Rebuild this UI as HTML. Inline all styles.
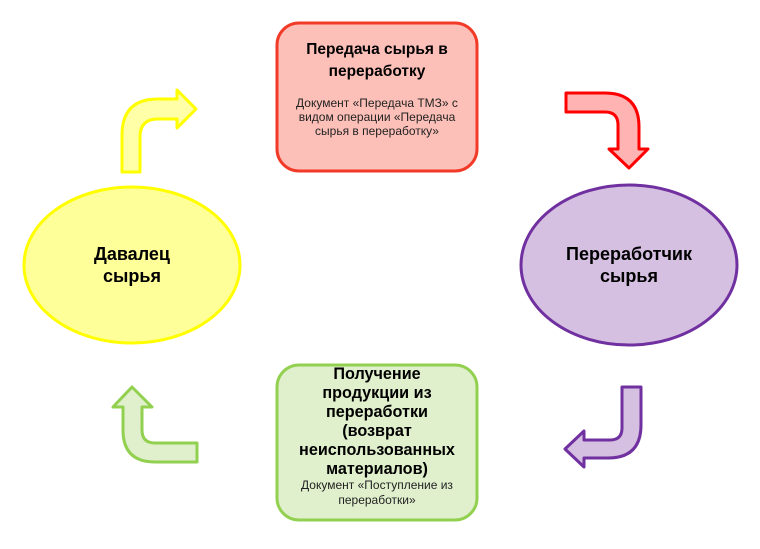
<!DOCTYPE html>
<html><head><meta charset="utf-8"><style>
body{margin:0;background:#fff;}
text{font-family:"Liberation Sans",Arial,sans-serif;}
</style></head><body>
<svg width="760" height="544" viewBox="0 0 760 544" xmlns="http://www.w3.org/2000/svg">
<rect x="277" y="23" width="200" height="148" rx="22" fill="#fdc0b8" stroke="#f23a28" stroke-width="3"/>
<rect x="277" y="365" width="200" height="155" rx="22" fill="#e0efcc" stroke="#92d050" stroke-width="3"/>
<ellipse cx="132" cy="265" rx="108" ry="78" fill="#ffff99" stroke="#ffff00" stroke-width="3"/>
<ellipse cx="629" cy="265" rx="108" ry="80" fill="#d5c0e2" stroke="#7030a0" stroke-width="3"/>
<path d="M122,172 L122,135 Q122,99 158,99 L177,99 L177,90 L196,109 L177,128 L177,119 L158,119 Q140,119 140,137 L140,172 Z" fill="#ffffa8" stroke="#ffff00" stroke-width="3" stroke-linejoin="round"/>
<path d="M566,93 L605,93 Q639,93 639,127 L639,149 L648,149 L629,168 L609,149 L618,149 L618,125 Q618,112 605,112 L566,112 Z" fill="#ffb3b3" stroke="#ff0000" stroke-width="3" stroke-linejoin="round"/>
<path d="M622,387 L641,387 L641,425 Q641,458 608,458 L584,458 L584,467 L565,449 L584,431 L584,440 L610,440 Q622,440 622,428 Z" fill="#d5c0e2" stroke="#7030a0" stroke-width="3" stroke-linejoin="round"/>
<path d="M123,407 L113,407 L132,387 L152,407 L142,407 L142,430 Q142,443 155,443 L197,443 L197,462 L155,462 Q123,462 123,430 Z" fill="#e0efcc" stroke="#92d050" stroke-width="3" stroke-linejoin="round"/>
<g text-anchor="middle" font-weight="bold" fill="#000">
<g font-size="15.5">
<text x="377" y="54">Передача сырья в</text>
<text x="377" y="76">переработку</text>
</g>
<g font-size="18">
<text x="132" y="260">Давалец</text>
<text x="132" y="282">сырья</text>
<text x="629" y="260">Переработчик</text>
<text x="629" y="282">сырья</text>
</g>
<g font-size="16.2">
<text x="377" y="379">Получение</text>
<text x="377" y="398">продукции из</text>
<text x="377" y="417">переработки</text>
<text x="377" y="436">(возврат</text>
<text x="377" y="455">неиспользованных</text>
<text x="377" y="474">материалов)</text>
</g>
</g>
<g text-anchor="middle" font-size="12" fill="#222">
<text x="377" y="107">Документ «Передача ТМЗ» с</text>
<text x="377" y="121">видом операции «Передача</text>
<text x="377" y="135">сырья в переработку»</text>
<text x="377" y="489">Документ «Поступление из</text>
<text x="377" y="504">переработки»</text>
</g>
</svg>
</body></html>
